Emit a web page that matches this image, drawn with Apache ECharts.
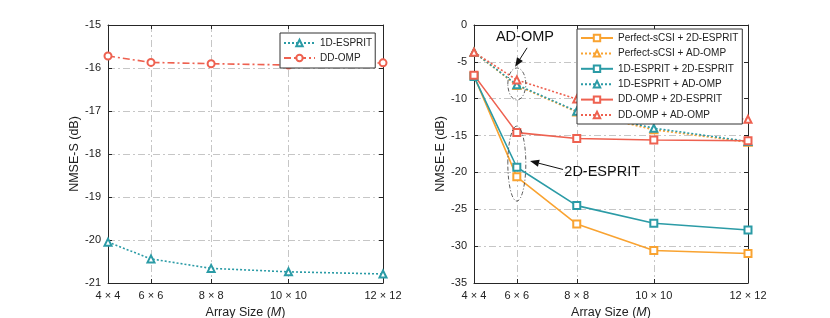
<!DOCTYPE html>
<html><head><meta charset="utf-8">
<script src="https://cdn.jsdelivr.net/npm/echarts@6/dist/echarts.min.js"></script>
<style>html,body{margin:0;padding:0;background:#fff}#c{width:830px;height:318px}</style>
</head><body><div id="c"></div><script>
// ---- data ----
const xValues = [16, 36, 64, 100, 144];          // M^2 (array size M x M)
const xLabels = ['4 × 4', '6 × 6', '8 × 8', '10 × 10', '12 × 12'];
const leftNames = ['1D-ESPRIT', 'DD-OMP'];
const s1DESPRIT = [-20.05, -20.44, -20.66, -20.74, -20.79];
const sDDOMP = [-15.72, -15.87, -15.90, -15.93, -15.88];
const rightNames = ['Perfect-sCSI + 2D-ESPRIT', 'Perfect-sCSI + AD-OMP', '1D-ESPRIT + 2D-ESPRIT', '1D-ESPRIT + AD-OMP', 'DD-OMP + 2D-ESPRIT', 'DD-OMP + AD-OMP'];
const ePerfect2D = [-6.9, -20.6, -27.0, -30.6, -31.0];
const ePerfectAD = [-3.7, -8.2, -11.8, -14.2, -15.9];
const e1D2D = [-7.0, -19.3, -24.5, -26.9, -27.8];
const e1DAD = [-3.7, -8.1, -11.7, -14.0, -15.8];
const eDD2D = [-6.8, -14.6, -15.4, -15.6, -15.7];
const eDDAD = [-3.7, -7.45, -10.05, -12.0, -12.8];
const leftYRange = [-21, -15, 1];
const rightYRange = [-35, 0, 5];

// ---- styles ----
const FONT = 'Liberation Sans, Arial, sans-serif';
const C_OR = '#F9A331', C_TE = '#2B9BA6', C_RD = '#EE6150';
const DOT = [2, 2], DASHDOT = [7, 3, 2, 3];
const AX = '#262626', GRIDC = '#b8b8b8';

function pts(arr) { return arr.map((v, i) => [xValues[i], v]); }
function ser(name, data, color, dash, symbol, idx) {
  return {
    name, type: 'line', xAxisIndex: idx, yAxisIndex: idx, data: pts(data),
    symbol, symbolSize: 7, showSymbol: true,
    lineStyle: { color, width: 1.6, type: dash === null ? 'solid' : dash },
    itemStyle: { color, borderColor: color, borderWidth: 1.4 },
    emphasis: { disabled: true }, animation: false
  };
}
function xAx(gi, pos) {
  const main = pos === 'bottom';
  return {
    type: 'value', gridIndex: gi, position: pos, min: 16, max: 144,
    axisLine: { show: true, onZero: false, lineStyle: { color: AX, width: 1 } },
    axisTick: { show: true, inside: true, length: 4, customValues: xValues, lineStyle: { color: AX } },
    axisLabel: { show: main, customValues: xValues, color: '#222', fontSize: 11, fontFamily: FONT, margin: 7,
      formatter: v => xLabels[xValues.indexOf(v)] || '' },
    splitLine: { show: main, lineStyle: { color: GRIDC, type: DASHDOT, width: 0.8 } },
    name: main ? '{n|Array Size (}{i|M}{n|)}' : '', nameLocation: 'middle', nameGap: 21,
    nameTextStyle: { rich: { n: { fontSize: 12.5, fontFamily: FONT, color: '#222' }, i: { fontSize: 12.5, fontFamily: FONT, fontStyle: 'italic', color: '#222' } } }
  };
}
function yAx(gi, pos, r, name) {
  const main = pos === 'left';
  return {
    type: 'value', gridIndex: gi, position: pos, min: r[0], max: r[1], interval: r[2],
    axisLine: { show: true, onZero: false, lineStyle: { color: AX, width: 1 } },
    axisTick: { show: true, inside: true, length: 4, lineStyle: { color: AX } },
    axisLabel: { show: main, color: '#222', fontSize: 11, fontFamily: FONT, margin: 7 },
    splitLine: { show: main, lineStyle: { color: GRIDC, type: DASHDOT, width: 0.8 } },
    name: main ? name : '', nameLocation: 'middle', nameGap: 25,
    nameTextStyle: { fontSize: 12.5, fontFamily: FONT, color: '#222' }
  };
}

const chart = echarts.init(document.getElementById('c'), null, { renderer: 'canvas' });
const option = {
  backgroundColor: '#fff',
  animation: false,
  grid: [
    { left: 108, top: 25, width: 275, height: 258, show: false, containLabel: false, outerBoundsMode: 'none' },
    { left: 474, top: 25, width: 274, height: 258, show: false, containLabel: false, outerBoundsMode: 'none' }
  ],
  xAxis: [xAx(0, 'bottom'), xAx(1, 'bottom'), xAx(0, 'top'), xAx(1, 'top')],
  yAxis: [yAx(0, 'left', leftYRange, 'NMSE-S (dB)'), yAx(1, 'left', rightYRange, 'NMSE-E (dB)'),
          yAx(0, 'right', leftYRange, ''), yAx(1, 'right', rightYRange, '')],
  legend: [
    { data: leftNames, orient: 'vertical', left: 280, top: 33, padding: [5, 3, 5, 3], itemGap: 5,
      itemWidth: 31, itemHeight: 8, borderColor: '#333', borderWidth: 1, backgroundColor: '#fff',
      textStyle: { fontSize: 10, fontFamily: FONT, color: '#222' }, selectedMode: false },
    { data: rightNames, orient: 'vertical', left: 577, top: 29, padding: [4, 4, 4, 3], itemGap: 5.4,
      itemWidth: 32, itemHeight: 8, borderColor: '#333', borderWidth: 1, backgroundColor: '#fff',
      textStyle: { fontSize: 10, fontFamily: FONT, color: '#222' }, selectedMode: false }
  ],
  series: [
    ser(leftNames[0], s1DESPRIT, C_TE, DOT, 'emptyTriangle', 0),
    ser(leftNames[1], sDDOMP, C_RD, DASHDOT, 'emptyCircle', 0),
    ser(rightNames[0], ePerfect2D, C_OR, null, 'emptyRect', 1),
    ser(rightNames[1], ePerfectAD, C_OR, DOT, 'emptyTriangle', 1),
    ser(rightNames[2], e1D2D, C_TE, null, 'emptyRect', 1),
    ser(rightNames[3], e1DAD, C_TE, DOT, 'emptyTriangle', 1),
    ser(rightNames[4], eDD2D, C_RD, null, 'emptyRect', 1),
    ser(rightNames[5], eDDAD, C_RD, DOT, 'emptyTriangle', 1)
  ]
};
chart.setOption(option);

// ---- annotations (anchored in data coordinates of the right panel) ----
const P = (x, y) => chart.convertToPixel({ gridIndex: 1 }, [x, y]);
function arrow(from, to) {
  const a = P(from[0], from[1]), b = P(to[0], to[1]);
  const dx = b[0] - a[0], dy = b[1] - a[1], L = Math.hypot(dx, dy), ux = dx / L, uy = dy / L;
  const hl = 9, hw = 3.5;
  const base = [b[0] - ux * hl, b[1] - uy * hl];
  return [
    { type: 'line', shape: { x1: a[0], y1: a[1], x2: base[0], y2: base[1] }, style: { stroke: '#111', lineWidth: 1 }, z: 100 },
    { type: 'polygon', shape: { points: [b, [base[0] - uy * hw, base[1] + ux * hw], [base[0] + uy * hw, base[1] - ux * hw]] }, style: { fill: '#111' }, z: 100 }
  ];
}
function ell(x, y, rx, ry) {
  const c = P(x, y);
  return { type: 'ellipse', shape: { cx: c[0], cy: c[1], rx, ry }, style: { fill: null, stroke: '#333', lineWidth: 0.8, lineDash: [4, 2, 1, 2] }, z: 100 };
}
function txt(x, y, s, align) {
  const c = P(x, y);
  return { type: 'text', x: c[0], y: c[1], style: { text: s, fontSize: 14.5, fontFamily: FONT, fill: '#111', align, verticalAlign: 'middle' }, z: 100 };
}
chart.setOption({
  graphic: [
    ell(36, -8.0, 9, 16),
    ell(36, -18.8, 9, 37.5),
    txt(39.8, -1.6, 'AD-OMP', 'center'),
    txt(58.2, -19.9, '2D-ESPRIT', 'left'),
    ...arrow([40.8, -3.1], [35.2, -5.65]),
    ...arrow([57.6, -19.6], [42.2, -18.45])
  ]
});
</script></body></html>
